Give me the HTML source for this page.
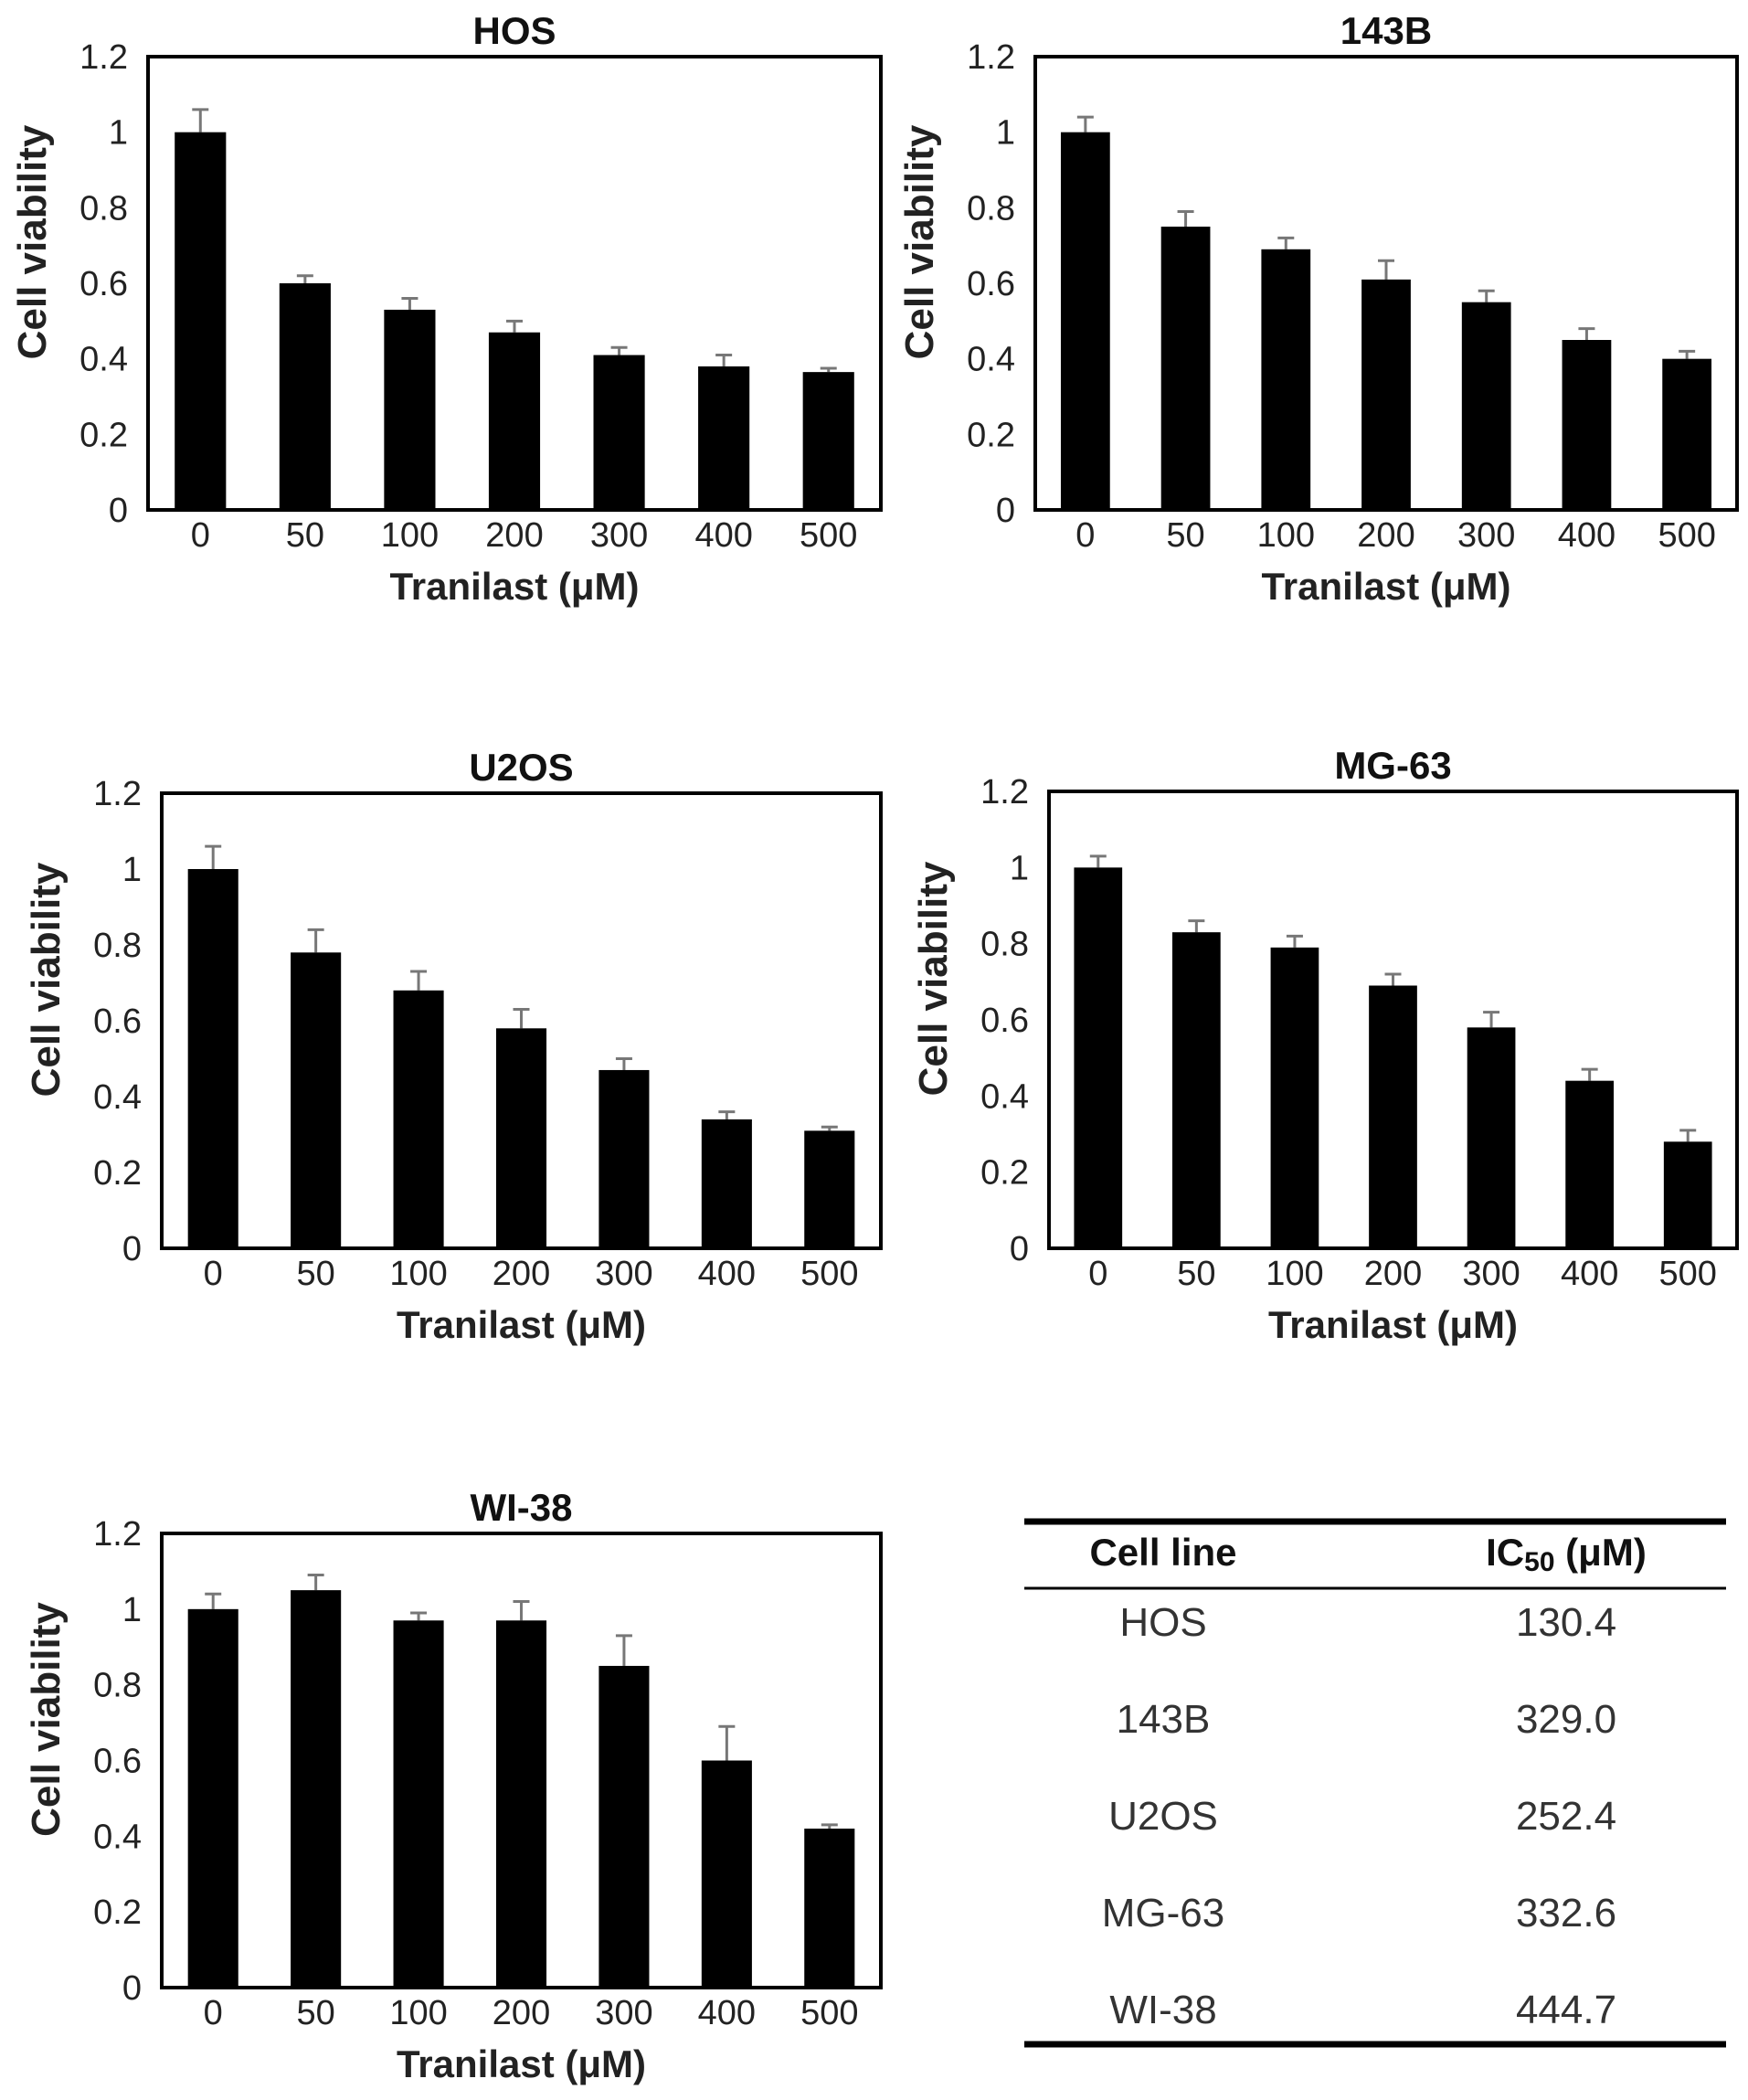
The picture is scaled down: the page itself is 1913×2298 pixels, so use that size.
<!DOCTYPE html>
<html><head><meta charset="utf-8">
<style>
html,body{margin:0;padding:0;background:#fff;}
svg{display:block;font-family:"Liberation Sans",Arial,sans-serif;}
</style></head>
<body>
<svg id="fig" width="1913" height="2298" viewBox="0 0 1913 2298" xmlns="http://www.w3.org/2000/svg">
<g id="tbl">
  <line x1="1121" y1="1665" x2="1889" y2="1665" stroke="#000" stroke-width="7"/>
  <line x1="1121" y1="1738" x2="1889" y2="1738" stroke="#000" stroke-width="3"/>
  <line x1="1121" y1="2237" x2="1889" y2="2237" stroke="#000" stroke-width="7"/>
  <text x="1273" y="1713" font-size="42" font-weight="bold" text-anchor="middle" fill="#111">Cell line</text>
  <text x="1714" y="1713" font-size="42" font-weight="bold" text-anchor="middle" fill="#111">IC<tspan font-size="30" dy="6">50</tspan><tspan dy="-6"> (μM)</tspan></text>
</g>
<script>
const cellLines=["HOS","143B","U2OS","MG-63","WI-38"];
const ic50Values=["130.4","329.0","252.4","332.6","444.7"];
const categories=["0","50","100","200","300","400","500"];
const yTicks=[0,0.2,0.4,0.6,0.8,1,1.2];
const yTickLabels=["0","0.2","0.4","0.6","0.8","1","1.2"];
const hosMean=[1.0,0.6,0.53,0.47,0.41,0.38,0.365];
const hosErr=[0.06,0.02,0.03,0.03,0.02,0.03,0.01];
const b143Mean=[1.0,0.75,0.69,0.61,0.55,0.45,0.40];
const b143Err=[0.04,0.04,0.03,0.05,0.03,0.03,0.02];
const u2osMean=[1.0,0.78,0.68,0.58,0.47,0.34,0.31];
const u2osErr=[0.06,0.06,0.05,0.05,0.03,0.02,0.01];
const mg63Mean=[1.0,0.83,0.79,0.69,0.58,0.44,0.28];
const mg63Err=[0.03,0.03,0.03,0.03,0.04,0.03,0.03];
const wi38Mean=[1.0,1.05,0.97,0.97,0.85,0.60,0.42];
const wi38Err=[0.04,0.04,0.02,0.05,0.08,0.09,0.01];

const NS="http://www.w3.org/2000/svg";
const svg=document.getElementById('fig');
function mk(tag,attrs,parent){const e=document.createElementNS(NS,tag);for(const k in attrs)e.setAttribute(k,attrs[k]);(parent||svg).appendChild(e);return e;}

const panels=[
 {name:"HOS",mean:hosMean,err:hosErr,L:162,R:964,T:62,B:558},
 {name:"143B",mean:b143Mean,err:b143Err,L:1133,R:1901,T:62,B:558},
 {name:"U2OS",mean:u2osMean,err:u2osErr,L:177,R:964,T:868,B:1366},
 {name:"MG-63",mean:mg63Mean,err:mg63Err,L:1148,R:1901,T:866,B:1366},
 {name:"WI-38",mean:wi38Mean,err:wi38Err,L:177,R:964,T:1678,B:2175}
];
panels.forEach(p=>{
  const g=mk('g',{});
  
  
  const y=v=>p.B-(v/1.2)*(p.B-p.T);
  const step=(p.R-p.L)/categories.length;
  const x=i=>p.L+step*(i+0.5);
  const bw=step*0.49;
  p.mean.forEach((v,i)=>{
    const ex=x(i), top=y(v+p.err[i]);
    const el=mk('line',{x1:ex,x2:ex,y1:top,y2:y(v),stroke:'#777','stroke-width':3},g);
    
    
    const cap=mk('line',{x1:ex-9,x2:ex+9,y1:top,y2:top,stroke:'#777','stroke-width':3},g);
    
    
    const r=mk('rect',{x:ex-bw/2,y:y(v),width:bw,height:p.B-y(v),fill:'#000'},g);
    
    
    const t=mk('text',{x:ex,y:p.B+40,'font-size':38,'text-anchor':'middle',fill:'#222'},g);
    t.textContent=categories[i];
    
    
  });
  const box=mk('rect',{x:p.L,y:p.T,width:p.R-p.L,height:p.B-p.T,fill:'none',stroke:'#000','stroke-width':4},g);
  
  
  yTicks.forEach((v,i)=>{
    const t=mk('text',{x:p.L-22,y:y(v)+13,'font-size':38,'text-anchor':'end',fill:'#222'},g);
    t.textContent=yTickLabels[i];
    
    
  });
  const ti=mk('text',{x:(p.L+p.R)/2,y:p.T-14,'font-size':42,'font-weight':'bold','text-anchor':'middle',fill:'#111'},g);
  ti.textContent=p.name;
  
  
  const xt=mk('text',{x:(p.L+p.R)/2,y:p.B+98,'font-size':42,'font-weight':'bold','text-anchor':'middle',fill:'#222'},g);
  xt.textContent='Tranilast (μM)';
  
  
  const cy=(p.T+p.B)/2-45, cx=p.L-112;
  const yt=mk('text',{x:cx,y:cy,'font-size':44,'font-weight':'bold','text-anchor':'middle',fill:'#222',transform:'rotate(-90 '+cx+' '+cy+')'},g);
  yt.textContent='Cell viability';
  
  
});
const tg=document.getElementById('tbl');
cellLines.forEach((c,i)=>{
  const yy=1790+i*106;
  const a=mk('text',{x:1273,y:yy,'font-size':44,'text-anchor':'middle',fill:'#333'},tg);
  a.textContent=c;
  
  
  const b=mk('text',{x:1714,y:yy,'font-size':44,'text-anchor':'middle',fill:'#333'},tg);
  b.textContent=ic50Values[i];
  
  
});
</script>
</svg>
</body></html>
